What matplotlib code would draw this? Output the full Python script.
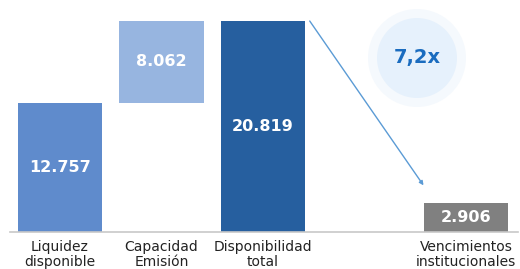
import matplotlib
matplotlib.use("Agg")
import matplotlib.pyplot as plt
from matplotlib.patches import Circle

categories = ["Liquidez\ndisponible", "Capacidad\nEmisión", "Disponibilidad\ntotal", "Vencimientos\ninstitucionales"]
positions = [0, 1, 2, 4]
values = [12757, 8062, 20819, 2906]
bottoms = [0, 12757, 0, 0]
value_labels = ["12.757", "8.062", "20.819", "2.906"]
colors = ["#5f8bcc", "#97b5e0", "#265f9f", "#808080"]
ratio_label = "7,2x"

fig = plt.figure(figsize=(5.2, 2.69), dpi=100)
ax = fig.add_axes([10/520, 37/269, 508/520, 232/269])
ax.set_xlim(-0.49, 4.51)
ax.set_ylim(0, 20819 * 232 / 211)

ax.bar(positions, values, bottom=bottoms, width=0.83, color=colors, zorder=2)
for p, v, b, lab in zip(positions, values, bottoms, value_labels):
    ax.text(p, b + v / 2, lab, ha="center", va="center", color="white",
            fontsize=11.5, fontweight="bold", zorder=3)

for s in ["top", "right", "left"]:
    ax.spines[s].set_visible(False)
ax.spines["bottom"].set_color("#c8c8c8")
ax.spines["bottom"].set_linewidth(1.2)
ax.set_yticks([])
ax.set_xticks(positions)
ax.set_xticklabels(categories, fontsize=10, color="#222222", linespacing=1.05)
ax.tick_params(axis="x", length=0, pad=6)

# arrow from total to maturities
ax.annotate("", xy=(3.58, 4600), xytext=(2.46, 20819),
            arrowprops=dict(arrowstyle="-|>", color="#5b9bd5", lw=1.0,
                            mutation_scale=6, shrinkA=0, shrinkB=0))

# circle badge
fig.patches.append(Circle((4.17, (269 - 58) / 100), 0.49, transform=fig.dpi_scale_trans,
                          facecolor="#f5f9fd", edgecolor="none", zorder=0))
fig.patches.append(Circle((4.17, (269 - 58) / 100), 0.40, transform=fig.dpi_scale_trans,
                          facecolor="#e6f1fc", edgecolor="none", zorder=0))
fig.text(4.17 / 5.2, (269 - 58) / 269, ratio_label, ha="center", va="center",
         fontsize=14, fontweight="bold", color="#1a6cbf")

fig.savefig("out.png", dpi=100)
